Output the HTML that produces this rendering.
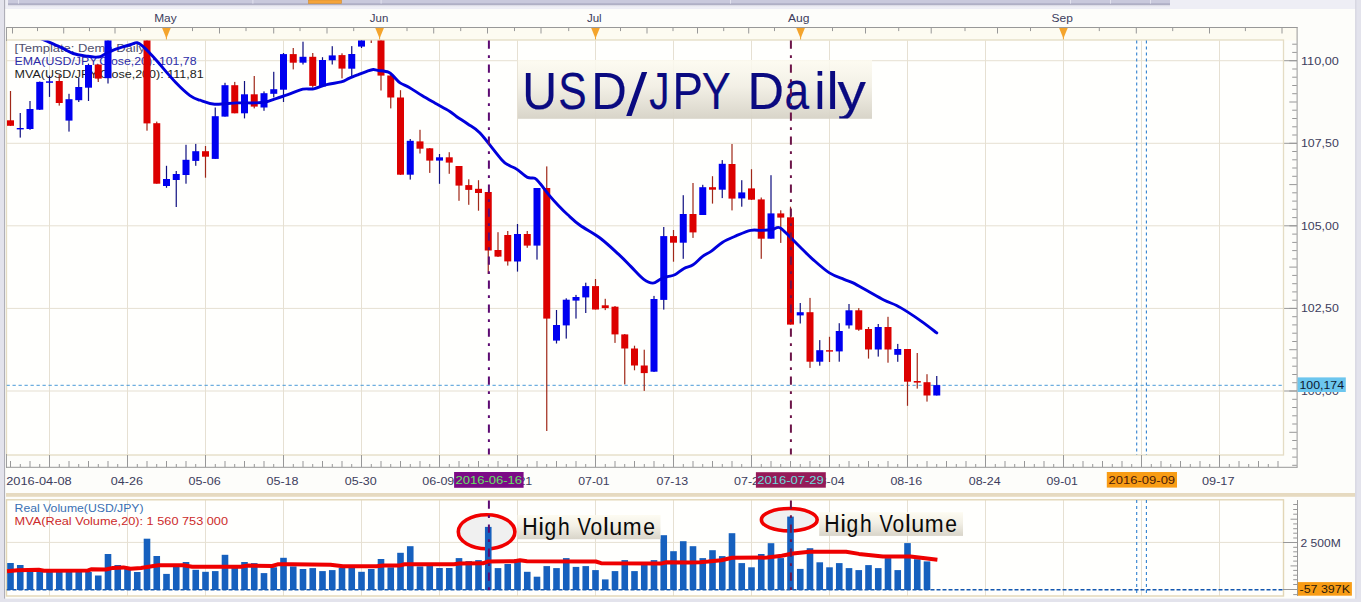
<!DOCTYPE html><html><head><meta charset="utf-8"><style>html,body{margin:0;padding:0;width:1361px;height:602px;overflow:hidden;background:#fff}svg{display:block}text{font-family:"Liberation Sans", sans-serif}</style></head><body>
<svg width="1361" height="602" viewBox="0 0 1361 602">
<defs><linearGradient id="tg" x1="0" y1="0" x2="0" y2="1"><stop offset="0" stop-color="#fdfbf0" stop-opacity="0.85"/><stop offset="0.45" stop-color="#f1eee3" stop-opacity="0.9"/><stop offset="1" stop-color="#d6d2c6" stop-opacity="0.95"/></linearGradient><linearGradient id="sh" x1="0" y1="0" x2="0" y2="1"><stop offset="0" stop-color="#b8b8cc"/><stop offset="1" stop-color="#ffffff" stop-opacity="0"/></linearGradient><clipPath id="tb"><rect x="517.8" y="60" width="354.2" height="58.6"/></clipPath><clipPath id="mp"><rect x="6.5" y="40.5" width="1276.5" height="414"/></clipPath><clipPath id="vp"><rect x="6.5" y="500" width="1276.5" height="96"/></clipPath></defs>
<rect x="0" y="0" width="1361" height="602" fill="#fdfdfa"/>
<rect x="0" y="0" width="1361" height="9" fill="#eeeef5"/>
<rect x="0" y="0" width="4.5" height="602" fill="#e3e3ec"/>
<rect x="4.1" y="0" width="1" height="602" fill="#a8a8b2"/>
<rect x="1355.5" y="0" width="5.5" height="602" fill="#e3e3ec"/>
<rect x="1355.3" y="0" width="1" height="602" fill="#d0d0dc"/>
<rect x="0" y="598.6" width="1361" height="3.4" fill="#e3e3ec"/>
<rect x="8" y="4" width="1162" height="4" fill="url(#sh)"/>
<rect x="8" y="0" width="1162" height="4.2" fill="#c9c9dc"/>
<rect x="8" y="3.6" width="1162" height="0.9" fill="#9a9ab2"/>
<rect x="18.0" y="0" width="1" height="3.6" fill="#e2e2ee"/>
<rect x="252.4" y="0" width="1" height="3.6" fill="#e2e2ee"/>
<rect x="380.6" y="0" width="1" height="3.6" fill="#e2e2ee"/>
<rect x="730.0" y="0" width="1" height="3.6" fill="#e2e2ee"/>
<rect x="1070.0" y="0" width="1" height="3.6" fill="#e2e2ee"/>
<rect x="1110.0" y="0" width="1" height="3.6" fill="#e2e2ee"/>
<rect x="1150.0" y="0" width="1" height="3.6" fill="#e2e2ee"/>
<rect x="308.5" y="0" width="33" height="3.5" fill="#f5a43a" stroke="#d08a30" stroke-width="0.6"/>
<text x="154.2" y="21.7" font-size="11.8" fill="#3c3c5c" textLength="22.5" lengthAdjust="spacingAndGlyphs">May</text>
<text x="369.8" y="21.7" font-size="11.8" fill="#3c3c5c" textLength="18.5" lengthAdjust="spacingAndGlyphs">Jun</text>
<text x="586.9" y="21.7" font-size="11.8" fill="#3c3c5c" textLength="14.8" lengthAdjust="spacingAndGlyphs">Jul</text>
<text x="788.0" y="21.7" font-size="11.8" fill="#3c3c5c" textLength="21.5" lengthAdjust="spacingAndGlyphs">Aug</text>
<text x="1051.5" y="21.7" font-size="11.8" fill="#3c3c5c" textLength="21.3" lengthAdjust="spacingAndGlyphs">Sep</text>
<rect x="6.5" y="27.5" width="1291" height="13" fill="#fdfbf1"/>
<rect x="6.5" y="27" width="1291" height="1" fill="#989898"/>
<rect x="12.0" y="27.5" width="1" height="6.0" fill="#989898"/>
<rect x="37.0" y="27.5" width="1" height="3.6" fill="#989898"/>
<rect x="63.2" y="27.5" width="1" height="6.0" fill="#989898"/>
<rect x="89.0" y="27.5" width="1" height="3.6" fill="#989898"/>
<rect x="114.5" y="27.5" width="1" height="6.0" fill="#989898"/>
<rect x="140.0" y="27.5" width="1" height="3.6" fill="#989898"/>
<rect x="192.0" y="27.5" width="1" height="3.6" fill="#989898"/>
<rect x="219.0" y="27.5" width="1" height="6.0" fill="#989898"/>
<rect x="245.5" y="27.5" width="1" height="3.6" fill="#989898"/>
<rect x="273.2" y="27.5" width="1" height="6.0" fill="#989898"/>
<rect x="299.5" y="27.5" width="1" height="3.6" fill="#989898"/>
<rect x="326.5" y="27.5" width="1" height="6.0" fill="#989898"/>
<rect x="353.2" y="27.5" width="1" height="3.6" fill="#989898"/>
<rect x="406.5" y="27.5" width="1" height="3.6" fill="#989898"/>
<rect x="433.2" y="27.5" width="1" height="6.0" fill="#989898"/>
<rect x="460.2" y="27.5" width="1" height="3.6" fill="#989898"/>
<rect x="487.0" y="27.5" width="1" height="6.0" fill="#989898"/>
<rect x="514.0" y="27.5" width="1" height="3.6" fill="#989898"/>
<rect x="540.5" y="27.5" width="1" height="6.0" fill="#989898"/>
<rect x="568.2" y="27.5" width="1" height="3.6" fill="#989898"/>
<rect x="620.0" y="27.5" width="1" height="3.6" fill="#989898"/>
<rect x="646.5" y="27.5" width="1" height="6.0" fill="#989898"/>
<rect x="672.5" y="27.5" width="1" height="3.6" fill="#989898"/>
<rect x="697.0" y="27.5" width="1" height="6.0" fill="#989898"/>
<rect x="723.2" y="27.5" width="1" height="3.6" fill="#989898"/>
<rect x="748.2" y="27.5" width="1" height="6.0" fill="#989898"/>
<rect x="774.0" y="27.5" width="1" height="3.6" fill="#989898"/>
<rect x="832.0" y="27.5" width="1" height="3.6" fill="#989898"/>
<rect x="865.0" y="27.5" width="1" height="6.0" fill="#989898"/>
<rect x="898.2" y="27.5" width="1" height="3.6" fill="#989898"/>
<rect x="930.7" y="27.5" width="1" height="6.0" fill="#989898"/>
<rect x="964.5" y="27.5" width="1" height="3.6" fill="#989898"/>
<rect x="997.0" y="27.5" width="1" height="6.0" fill="#989898"/>
<rect x="1030.0" y="27.5" width="1" height="3.6" fill="#989898"/>
<rect x="1098.8" y="27.5" width="1" height="3.6" fill="#989898"/>
<rect x="1135.8" y="27.5" width="1" height="6.0" fill="#989898"/>
<rect x="1172.2" y="27.5" width="1" height="3.6" fill="#989898"/>
<rect x="1209.0" y="27.5" width="1" height="6.0" fill="#989898"/>
<rect x="1244.9" y="27.5" width="1" height="3.6" fill="#989898"/>
<rect x="1281.5" y="27.5" width="1" height="6.0" fill="#989898"/>
<path d="M162.1 28 L170.7 28 L166.4 38.5 Z" fill="#f4a42c"/>
<rect x="165.9" y="36" width="1" height="4" fill="#f4a42c"/>
<path d="M375.3 28 L383.9 28 L379.6 38.5 Z" fill="#f4a42c"/>
<rect x="379.1" y="36" width="1" height="4" fill="#f4a42c"/>
<path d="M591.2 28 L599.8 28 L595.5 38.5 Z" fill="#f4a42c"/>
<rect x="595.0" y="36" width="1" height="4" fill="#f4a42c"/>
<path d="M796.3 28 L804.9 28 L800.6 38.5 Z" fill="#f4a42c"/>
<rect x="800.1" y="36" width="1" height="4" fill="#f4a42c"/>
<path d="M1059.1 28 L1067.7 28 L1063.4 38.5 Z" fill="#f4a42c"/>
<rect x="1062.9" y="36" width="1" height="4" fill="#f4a42c"/>
<rect x="6.5" y="40" width="1277" height="415" fill="#fffffd"/>
<rect x="49.0" y="40.5" width="1" height="414" fill="#e6e0d2"/>
<rect x="127.0" y="40.5" width="1" height="414" fill="#e6e0d2"/>
<rect x="205.0" y="40.5" width="1" height="414" fill="#e6e0d2"/>
<rect x="283.0" y="40.5" width="1" height="414" fill="#e6e0d2"/>
<rect x="361.0" y="40.5" width="1" height="414" fill="#e6e0d2"/>
<rect x="439.0" y="40.5" width="1" height="414" fill="#e6e0d2"/>
<rect x="517.0" y="40.5" width="1" height="414" fill="#e6e0d2"/>
<rect x="595.0" y="40.5" width="1" height="414" fill="#e6e0d2"/>
<rect x="673.0" y="40.5" width="1" height="414" fill="#e6e0d2"/>
<rect x="751.0" y="40.5" width="1" height="414" fill="#e6e0d2"/>
<rect x="829.0" y="40.5" width="1" height="414" fill="#e6e0d2"/>
<rect x="907.0" y="40.5" width="1" height="414" fill="#e6e0d2"/>
<rect x="985.0" y="40.5" width="1" height="414" fill="#e6e0d2"/>
<rect x="1063.0" y="40.5" width="1" height="414" fill="#e6e0d2"/>
<rect x="1141.0" y="40.5" width="1" height="414" fill="#e6e0d2"/>
<rect x="1219.0" y="40.5" width="1" height="414" fill="#e6e0d2"/>
<rect x="6.5" y="60.2" width="1277" height="1" fill="#e6e0d2"/>
<rect x="1283" y="60.2" width="14" height="1" fill="#989898"/>
<rect x="6.5" y="142.8" width="1277" height="1" fill="#e6e0d2"/>
<rect x="1283" y="142.8" width="14" height="1" fill="#989898"/>
<rect x="6.5" y="225.3" width="1277" height="1" fill="#e6e0d2"/>
<rect x="1283" y="225.3" width="14" height="1" fill="#989898"/>
<rect x="6.5" y="307.9" width="1277" height="1" fill="#e6e0d2"/>
<rect x="1283" y="307.9" width="14" height="1" fill="#989898"/>
<rect x="6.5" y="390.5" width="1277" height="1" fill="#e6e0d2"/>
<rect x="1283" y="390.5" width="14" height="1" fill="#989898"/>
<rect x="6.5" y="40" width="1277" height="415" fill="none" stroke="#e4dcc4" stroke-width="1.3"/>
<rect x="6" y="27" width="1" height="14" fill="#a0a0a0"/>
<rect x="6" y="454" width="1" height="14" fill="#a0a0a0"/>
<rect x="1296.6" y="27" width="1" height="440.5" fill="#989898"/>
<rect x="1292.2" y="43.7" width="4.6" height="1" fill="#989898"/>
<rect x="1292.2" y="51.9" width="4.6" height="1" fill="#989898"/>
<rect x="1289.3" y="60.2" width="7.5" height="1" fill="#989898"/>
<rect x="1292.2" y="68.5" width="4.6" height="1" fill="#989898"/>
<rect x="1292.2" y="76.7" width="4.6" height="1" fill="#989898"/>
<rect x="1292.2" y="85.0" width="4.6" height="1" fill="#989898"/>
<rect x="1292.2" y="93.2" width="4.6" height="1" fill="#989898"/>
<rect x="1289.3" y="101.5" width="7.5" height="1" fill="#989898"/>
<rect x="1292.2" y="109.7" width="4.6" height="1" fill="#989898"/>
<rect x="1292.2" y="118.0" width="4.6" height="1" fill="#989898"/>
<rect x="1292.2" y="126.3" width="4.6" height="1" fill="#989898"/>
<rect x="1292.2" y="134.5" width="4.6" height="1" fill="#989898"/>
<rect x="1289.3" y="142.8" width="7.5" height="1" fill="#989898"/>
<rect x="1292.2" y="151.0" width="4.6" height="1" fill="#989898"/>
<rect x="1292.2" y="159.3" width="4.6" height="1" fill="#989898"/>
<rect x="1292.2" y="167.5" width="4.6" height="1" fill="#989898"/>
<rect x="1292.2" y="175.8" width="4.6" height="1" fill="#989898"/>
<rect x="1289.3" y="184.1" width="7.5" height="1" fill="#989898"/>
<rect x="1292.2" y="192.3" width="4.6" height="1" fill="#989898"/>
<rect x="1292.2" y="200.6" width="4.6" height="1" fill="#989898"/>
<rect x="1292.2" y="208.8" width="4.6" height="1" fill="#989898"/>
<rect x="1292.2" y="217.1" width="4.6" height="1" fill="#989898"/>
<rect x="1289.3" y="225.3" width="7.5" height="1" fill="#989898"/>
<rect x="1292.2" y="233.6" width="4.6" height="1" fill="#989898"/>
<rect x="1292.2" y="241.9" width="4.6" height="1" fill="#989898"/>
<rect x="1292.2" y="250.1" width="4.6" height="1" fill="#989898"/>
<rect x="1292.2" y="258.4" width="4.6" height="1" fill="#989898"/>
<rect x="1289.3" y="266.6" width="7.5" height="1" fill="#989898"/>
<rect x="1292.2" y="274.9" width="4.6" height="1" fill="#989898"/>
<rect x="1292.2" y="283.2" width="4.6" height="1" fill="#989898"/>
<rect x="1292.2" y="291.4" width="4.6" height="1" fill="#989898"/>
<rect x="1292.2" y="299.7" width="4.6" height="1" fill="#989898"/>
<rect x="1289.3" y="307.9" width="7.5" height="1" fill="#989898"/>
<rect x="1292.2" y="316.2" width="4.6" height="1" fill="#989898"/>
<rect x="1292.2" y="324.4" width="4.6" height="1" fill="#989898"/>
<rect x="1292.2" y="332.7" width="4.6" height="1" fill="#989898"/>
<rect x="1292.2" y="341.0" width="4.6" height="1" fill="#989898"/>
<rect x="1289.3" y="349.2" width="7.5" height="1" fill="#989898"/>
<rect x="1292.2" y="357.5" width="4.6" height="1" fill="#989898"/>
<rect x="1292.2" y="365.7" width="4.6" height="1" fill="#989898"/>
<rect x="1292.2" y="374.0" width="4.6" height="1" fill="#989898"/>
<rect x="1292.2" y="382.2" width="4.6" height="1" fill="#989898"/>
<rect x="1289.3" y="390.5" width="7.5" height="1" fill="#989898"/>
<rect x="1292.2" y="398.8" width="4.6" height="1" fill="#989898"/>
<rect x="1292.2" y="407.0" width="4.6" height="1" fill="#989898"/>
<rect x="1292.2" y="415.3" width="4.6" height="1" fill="#989898"/>
<rect x="1292.2" y="423.5" width="4.6" height="1" fill="#989898"/>
<rect x="1289.3" y="431.8" width="7.5" height="1" fill="#989898"/>
<rect x="1292.2" y="440.0" width="4.6" height="1" fill="#989898"/>
<rect x="1292.2" y="448.3" width="4.6" height="1" fill="#989898"/>
<rect x="1292.2" y="456.6" width="4.6" height="1" fill="#989898"/>
<rect x="1292.2" y="464.8" width="4.6" height="1" fill="#989898"/>
<text x="1301" y="64.7" font-size="11.6" fill="#3c3c5c" textLength="37.8" lengthAdjust="spacingAndGlyphs">110,00</text>
<text x="1301" y="147.3" font-size="11.6" fill="#3c3c5c" textLength="37.8" lengthAdjust="spacingAndGlyphs">107,50</text>
<text x="1301" y="229.8" font-size="11.6" fill="#3c3c5c" textLength="37.8" lengthAdjust="spacingAndGlyphs">105,00</text>
<text x="1301" y="312.4" font-size="11.6" fill="#3c3c5c" textLength="37.8" lengthAdjust="spacingAndGlyphs">102,50</text>
<text x="1301" y="395.0" font-size="11.6" fill="#3c3c5c" textLength="37.8" lengthAdjust="spacingAndGlyphs">100,00</text>
<line x1="1136.7" y1="40.5" x2="1136.7" y2="455" stroke="#3080d0" stroke-width="1.1" stroke-dasharray="3,3"/>
<line x1="1146.4" y1="40.5" x2="1146.4" y2="455" stroke="#3080d0" stroke-width="1.1" stroke-dasharray="3,3"/>
<rect x="6.5" y="466.8" width="1291" height="1" fill="#989898"/>
<rect x="10.0" y="461" width="1" height="6" fill="#989898"/>
<rect x="19.8" y="464" width="1" height="3" fill="#989898"/>
<rect x="29.5" y="461" width="1" height="6" fill="#989898"/>
<rect x="39.2" y="464" width="1" height="3" fill="#989898"/>
<rect x="49.0" y="455" width="1" height="12" fill="#989898"/>
<rect x="58.8" y="464" width="1" height="3" fill="#989898"/>
<rect x="68.5" y="461" width="1" height="6" fill="#989898"/>
<rect x="78.2" y="464" width="1" height="3" fill="#989898"/>
<rect x="88.0" y="461" width="1" height="6" fill="#989898"/>
<rect x="97.8" y="464" width="1" height="3" fill="#989898"/>
<rect x="107.5" y="461" width="1" height="6" fill="#989898"/>
<rect x="117.2" y="464" width="1" height="3" fill="#989898"/>
<rect x="127.0" y="455" width="1" height="12" fill="#989898"/>
<rect x="136.8" y="464" width="1" height="3" fill="#989898"/>
<rect x="146.5" y="461" width="1" height="6" fill="#989898"/>
<rect x="156.2" y="464" width="1" height="3" fill="#989898"/>
<rect x="166.0" y="461" width="1" height="6" fill="#989898"/>
<rect x="175.8" y="464" width="1" height="3" fill="#989898"/>
<rect x="185.5" y="461" width="1" height="6" fill="#989898"/>
<rect x="195.2" y="464" width="1" height="3" fill="#989898"/>
<rect x="205.0" y="455" width="1" height="12" fill="#989898"/>
<rect x="214.8" y="464" width="1" height="3" fill="#989898"/>
<rect x="224.5" y="461" width="1" height="6" fill="#989898"/>
<rect x="234.2" y="464" width="1" height="3" fill="#989898"/>
<rect x="244.0" y="461" width="1" height="6" fill="#989898"/>
<rect x="253.8" y="464" width="1" height="3" fill="#989898"/>
<rect x="263.5" y="461" width="1" height="6" fill="#989898"/>
<rect x="273.2" y="464" width="1" height="3" fill="#989898"/>
<rect x="283.0" y="455" width="1" height="12" fill="#989898"/>
<rect x="292.8" y="464" width="1" height="3" fill="#989898"/>
<rect x="302.5" y="461" width="1" height="6" fill="#989898"/>
<rect x="312.2" y="464" width="1" height="3" fill="#989898"/>
<rect x="322.0" y="461" width="1" height="6" fill="#989898"/>
<rect x="331.8" y="464" width="1" height="3" fill="#989898"/>
<rect x="341.5" y="461" width="1" height="6" fill="#989898"/>
<rect x="351.2" y="464" width="1" height="3" fill="#989898"/>
<rect x="361.0" y="455" width="1" height="12" fill="#989898"/>
<rect x="370.8" y="464" width="1" height="3" fill="#989898"/>
<rect x="380.5" y="461" width="1" height="6" fill="#989898"/>
<rect x="390.2" y="464" width="1" height="3" fill="#989898"/>
<rect x="400.0" y="461" width="1" height="6" fill="#989898"/>
<rect x="409.8" y="464" width="1" height="3" fill="#989898"/>
<rect x="419.5" y="461" width="1" height="6" fill="#989898"/>
<rect x="429.2" y="464" width="1" height="3" fill="#989898"/>
<rect x="439.0" y="455" width="1" height="12" fill="#989898"/>
<rect x="448.8" y="464" width="1" height="3" fill="#989898"/>
<rect x="458.5" y="461" width="1" height="6" fill="#989898"/>
<rect x="468.2" y="464" width="1" height="3" fill="#989898"/>
<rect x="478.0" y="461" width="1" height="6" fill="#989898"/>
<rect x="487.8" y="464" width="1" height="3" fill="#989898"/>
<rect x="497.5" y="461" width="1" height="6" fill="#989898"/>
<rect x="507.2" y="464" width="1" height="3" fill="#989898"/>
<rect x="517.0" y="455" width="1" height="12" fill="#989898"/>
<rect x="526.8" y="464" width="1" height="3" fill="#989898"/>
<rect x="536.5" y="461" width="1" height="6" fill="#989898"/>
<rect x="546.2" y="464" width="1" height="3" fill="#989898"/>
<rect x="556.0" y="461" width="1" height="6" fill="#989898"/>
<rect x="565.8" y="464" width="1" height="3" fill="#989898"/>
<rect x="575.5" y="461" width="1" height="6" fill="#989898"/>
<rect x="585.2" y="464" width="1" height="3" fill="#989898"/>
<rect x="595.0" y="455" width="1" height="12" fill="#989898"/>
<rect x="604.8" y="464" width="1" height="3" fill="#989898"/>
<rect x="614.5" y="461" width="1" height="6" fill="#989898"/>
<rect x="624.2" y="464" width="1" height="3" fill="#989898"/>
<rect x="634.0" y="461" width="1" height="6" fill="#989898"/>
<rect x="643.8" y="464" width="1" height="3" fill="#989898"/>
<rect x="653.5" y="461" width="1" height="6" fill="#989898"/>
<rect x="663.2" y="464" width="1" height="3" fill="#989898"/>
<rect x="673.0" y="455" width="1" height="12" fill="#989898"/>
<rect x="682.8" y="464" width="1" height="3" fill="#989898"/>
<rect x="692.5" y="461" width="1" height="6" fill="#989898"/>
<rect x="702.2" y="464" width="1" height="3" fill="#989898"/>
<rect x="712.0" y="461" width="1" height="6" fill="#989898"/>
<rect x="721.8" y="464" width="1" height="3" fill="#989898"/>
<rect x="731.5" y="461" width="1" height="6" fill="#989898"/>
<rect x="741.2" y="464" width="1" height="3" fill="#989898"/>
<rect x="751.0" y="455" width="1" height="12" fill="#989898"/>
<rect x="760.8" y="464" width="1" height="3" fill="#989898"/>
<rect x="770.5" y="461" width="1" height="6" fill="#989898"/>
<rect x="780.2" y="464" width="1" height="3" fill="#989898"/>
<rect x="790.0" y="461" width="1" height="6" fill="#989898"/>
<rect x="799.8" y="464" width="1" height="3" fill="#989898"/>
<rect x="809.5" y="461" width="1" height="6" fill="#989898"/>
<rect x="819.2" y="464" width="1" height="3" fill="#989898"/>
<rect x="829.0" y="455" width="1" height="12" fill="#989898"/>
<rect x="838.8" y="464" width="1" height="3" fill="#989898"/>
<rect x="848.5" y="461" width="1" height="6" fill="#989898"/>
<rect x="858.2" y="464" width="1" height="3" fill="#989898"/>
<rect x="868.0" y="461" width="1" height="6" fill="#989898"/>
<rect x="877.8" y="464" width="1" height="3" fill="#989898"/>
<rect x="887.5" y="461" width="1" height="6" fill="#989898"/>
<rect x="897.2" y="464" width="1" height="3" fill="#989898"/>
<rect x="907.0" y="455" width="1" height="12" fill="#989898"/>
<rect x="916.8" y="464" width="1" height="3" fill="#989898"/>
<rect x="926.5" y="461" width="1" height="6" fill="#989898"/>
<rect x="936.2" y="464" width="1" height="3" fill="#989898"/>
<rect x="946.0" y="461" width="1" height="6" fill="#989898"/>
<rect x="955.8" y="464" width="1" height="3" fill="#989898"/>
<rect x="965.5" y="461" width="1" height="6" fill="#989898"/>
<rect x="975.2" y="464" width="1" height="3" fill="#989898"/>
<rect x="985.0" y="455" width="1" height="12" fill="#989898"/>
<rect x="994.8" y="464" width="1" height="3" fill="#989898"/>
<rect x="1004.5" y="461" width="1" height="6" fill="#989898"/>
<rect x="1014.2" y="464" width="1" height="3" fill="#989898"/>
<rect x="1024.0" y="461" width="1" height="6" fill="#989898"/>
<rect x="1033.8" y="464" width="1" height="3" fill="#989898"/>
<rect x="1043.5" y="461" width="1" height="6" fill="#989898"/>
<rect x="1053.2" y="464" width="1" height="3" fill="#989898"/>
<rect x="1063.0" y="455" width="1" height="12" fill="#989898"/>
<rect x="1072.8" y="464" width="1" height="3" fill="#989898"/>
<rect x="1082.5" y="461" width="1" height="6" fill="#989898"/>
<rect x="1092.2" y="464" width="1" height="3" fill="#989898"/>
<rect x="1102.0" y="461" width="1" height="6" fill="#989898"/>
<rect x="1111.8" y="464" width="1" height="3" fill="#989898"/>
<rect x="1121.5" y="461" width="1" height="6" fill="#989898"/>
<rect x="1131.2" y="464" width="1" height="3" fill="#989898"/>
<rect x="1141.0" y="455" width="1" height="12" fill="#989898"/>
<rect x="1150.8" y="464" width="1" height="3" fill="#989898"/>
<rect x="1160.5" y="461" width="1" height="6" fill="#989898"/>
<rect x="1170.2" y="464" width="1" height="3" fill="#989898"/>
<rect x="1180.0" y="461" width="1" height="6" fill="#989898"/>
<rect x="1189.8" y="464" width="1" height="3" fill="#989898"/>
<rect x="1199.5" y="461" width="1" height="6" fill="#989898"/>
<rect x="1209.2" y="464" width="1" height="3" fill="#989898"/>
<rect x="1219.0" y="455" width="1" height="12" fill="#989898"/>
<rect x="1228.8" y="464" width="1" height="3" fill="#989898"/>
<rect x="1238.5" y="461" width="1" height="6" fill="#989898"/>
<rect x="1248.2" y="464" width="1" height="3" fill="#989898"/>
<rect x="1258.0" y="461" width="1" height="6" fill="#989898"/>
<rect x="1267.8" y="464" width="1" height="3" fill="#989898"/>
<rect x="1277.5" y="461" width="1" height="6" fill="#989898"/>
<text x="14.6" y="52" font-size="11.6" fill="#50506e" textLength="134" lengthAdjust="spacingAndGlyphs">[Template: Demo Daily]</text>
<text x="14.6" y="64.5" font-size="11.6" fill="#2c2ca8" textLength="182" lengthAdjust="spacingAndGlyphs">EMA(USD/JPY,Close,20): 101,78</text>
<text x="14.6" y="77.5" font-size="11.6" fill="#1c1c1c" textLength="189" lengthAdjust="spacingAndGlyphs">MVA(USD/JPY,Close,200): 111,81</text>
<g clip-path="url(#mp)">
<line x1="6.5" y1="385.3" x2="1283" y2="385.3" stroke="#4a9ad8" stroke-width="1" stroke-dasharray="3.3,2.7"/>
<rect x="9.90" y="91.0" width="1.2" height="35.0" fill="#a02818"/>
<rect x="7.00" y="120.3" width="7" height="5.5" fill="#dc0000"/>
<rect x="19.65" y="113.0" width="1.2" height="24.6" fill="#101080"/>
<rect x="16.75" y="128.0" width="7" height="1.4" fill="#0000f0"/>
<rect x="29.40" y="101.0" width="1.2" height="28.8" fill="#101080"/>
<rect x="26.50" y="109.0" width="7" height="20.0" fill="#0000f0"/>
<rect x="39.15" y="81.5" width="1.2" height="28.5" fill="#101080"/>
<rect x="36.25" y="81.9" width="7" height="27.8" fill="#0000f0"/>
<rect x="48.90" y="75.5" width="1.2" height="21.4" fill="#101080"/>
<rect x="46.00" y="81.3" width="7" height="1.5" fill="#0000f0"/>
<rect x="58.65" y="74.6" width="1.2" height="31.0" fill="#a02818"/>
<rect x="55.75" y="81.0" width="7" height="22.0" fill="#dc0000"/>
<rect x="68.40" y="93.8" width="1.2" height="37.8" fill="#101080"/>
<rect x="65.50" y="99.2" width="7" height="21.4" fill="#0000f0"/>
<rect x="78.15" y="77.9" width="1.2" height="24.1" fill="#101080"/>
<rect x="75.25" y="87.0" width="7" height="13.2" fill="#0000f0"/>
<rect x="87.90" y="63.6" width="1.2" height="37.4" fill="#101080"/>
<rect x="85.00" y="65.0" width="7" height="22.7" fill="#0000f0"/>
<rect x="97.65" y="64.5" width="1.2" height="17.5" fill="#a02818"/>
<rect x="94.75" y="64.5" width="7" height="14.1" fill="#dc0000"/>
<rect x="107.40" y="40.0" width="1.2" height="43.5" fill="#101080"/>
<rect x="104.50" y="40.0" width="7" height="38.2" fill="#0000f0"/>
<rect x="146.40" y="40.0" width="1.2" height="90.7" fill="#a02818"/>
<rect x="143.50" y="40.0" width="7" height="83.4" fill="#dc0000"/>
<rect x="156.15" y="121.6" width="1.2" height="62.1" fill="#a02818"/>
<rect x="153.25" y="123.2" width="7" height="60.5" fill="#dc0000"/>
<rect x="165.90" y="165.8" width="1.2" height="22.0" fill="#101080"/>
<rect x="163.00" y="179.0" width="7" height="7.0" fill="#0000f0"/>
<rect x="175.65" y="171.0" width="1.2" height="36.0" fill="#101080"/>
<rect x="172.75" y="174.0" width="7" height="6.0" fill="#0000f0"/>
<rect x="185.40" y="144.8" width="1.2" height="38.9" fill="#101080"/>
<rect x="182.50" y="159.8" width="7" height="15.2" fill="#0000f0"/>
<rect x="195.15" y="143.9" width="1.2" height="21.9" fill="#101080"/>
<rect x="192.25" y="151.2" width="7" height="9.7" fill="#0000f0"/>
<rect x="204.90" y="146.0" width="1.2" height="31.7" fill="#a02818"/>
<rect x="202.00" y="151.2" width="7" height="5.5" fill="#dc0000"/>
<rect x="214.65" y="107.5" width="1.2" height="51.5" fill="#101080"/>
<rect x="211.75" y="116.2" width="7" height="42.7" fill="#0000f0"/>
<rect x="224.40" y="82.8" width="1.2" height="33.8" fill="#101080"/>
<rect x="221.50" y="85.2" width="7" height="31.4" fill="#0000f0"/>
<rect x="234.15" y="81.9" width="1.2" height="31.4" fill="#a02818"/>
<rect x="231.25" y="85.2" width="7" height="28.1" fill="#dc0000"/>
<rect x="243.90" y="81.0" width="1.2" height="37.4" fill="#101080"/>
<rect x="241.00" y="94.3" width="7" height="19.0" fill="#0000f0"/>
<rect x="253.65" y="76.0" width="1.2" height="32.4" fill="#a02818"/>
<rect x="250.75" y="94.3" width="7" height="12.3" fill="#dc0000"/>
<rect x="263.40" y="91.4" width="1.2" height="19.4" fill="#101080"/>
<rect x="260.50" y="93.2" width="7" height="14.3" fill="#0000f0"/>
<rect x="273.15" y="71.8" width="1.2" height="25.6" fill="#101080"/>
<rect x="270.25" y="89.2" width="7" height="4.6" fill="#0000f0"/>
<rect x="282.90" y="53.0" width="1.2" height="49.0" fill="#101080"/>
<rect x="280.00" y="54.1" width="7" height="35.6" fill="#0000f0"/>
<rect x="292.65" y="48.0" width="1.2" height="21.4" fill="#a02818"/>
<rect x="289.75" y="54.1" width="7" height="8.6" fill="#dc0000"/>
<rect x="302.40" y="41.7" width="1.2" height="22.8" fill="#101080"/>
<rect x="299.50" y="56.8" width="7" height="5.9" fill="#0000f0"/>
<rect x="312.15" y="53.0" width="1.2" height="34.7" fill="#a02818"/>
<rect x="309.25" y="56.8" width="7" height="29.1" fill="#dc0000"/>
<rect x="321.90" y="57.2" width="1.2" height="29.2" fill="#101080"/>
<rect x="319.00" y="60.0" width="7" height="26.4" fill="#0000f0"/>
<rect x="331.65" y="46.2" width="1.2" height="18.3" fill="#101080"/>
<rect x="328.75" y="55.4" width="7" height="4.9" fill="#0000f0"/>
<rect x="341.40" y="53.3" width="1.2" height="25.1" fill="#a02818"/>
<rect x="338.50" y="55.1" width="7" height="13.5" fill="#dc0000"/>
<rect x="351.15" y="46.1" width="1.2" height="30.5" fill="#101080"/>
<rect x="348.25" y="54.0" width="7" height="14.7" fill="#0000f0"/>
<rect x="360.90" y="40.0" width="1.2" height="8.0" fill="#101080"/>
<rect x="358.00" y="40.0" width="7" height="6.6" fill="#0000f0"/>
<rect x="370.65" y="30.0" width="1.2" height="13.0" fill="#a02818"/>
<rect x="367.75" y="30.0" width="7" height="8.0" fill="#dc0000"/>
<rect x="380.40" y="40.0" width="1.2" height="50.5" fill="#a02818"/>
<rect x="377.50" y="40.0" width="7" height="35.6" fill="#dc0000"/>
<rect x="390.15" y="75.0" width="1.2" height="33.4" fill="#a02818"/>
<rect x="387.25" y="75.5" width="7" height="22.0" fill="#dc0000"/>
<rect x="399.90" y="90.2" width="1.2" height="84.8" fill="#a02818"/>
<rect x="397.00" y="97.5" width="7" height="77.2" fill="#dc0000"/>
<rect x="409.65" y="139.0" width="1.2" height="40.6" fill="#101080"/>
<rect x="406.75" y="140.8" width="7" height="33.9" fill="#0000f0"/>
<rect x="419.40" y="129.8" width="1.2" height="23.7" fill="#a02818"/>
<rect x="416.50" y="141.4" width="7" height="7.3" fill="#dc0000"/>
<rect x="429.15" y="148.0" width="1.2" height="24.9" fill="#a02818"/>
<rect x="426.25" y="148.3" width="7" height="12.3" fill="#dc0000"/>
<rect x="438.90" y="154.0" width="1.2" height="29.8" fill="#101080"/>
<rect x="436.00" y="157.3" width="7" height="3.3" fill="#0000f0"/>
<rect x="448.65" y="152.2" width="1.2" height="21.6" fill="#a02818"/>
<rect x="445.75" y="157.3" width="7" height="5.3" fill="#dc0000"/>
<rect x="458.40" y="166.0" width="1.2" height="34.8" fill="#a02818"/>
<rect x="455.50" y="166.0" width="7" height="19.6" fill="#dc0000"/>
<rect x="468.15" y="179.3" width="1.2" height="25.5" fill="#a02818"/>
<rect x="465.25" y="185.1" width="7" height="4.8" fill="#dc0000"/>
<rect x="477.90" y="180.2" width="1.2" height="30.5" fill="#a02818"/>
<rect x="475.00" y="188.8" width="7" height="4.2" fill="#dc0000"/>
<rect x="487.65" y="192.0" width="1.2" height="82.0" fill="#a02818"/>
<rect x="484.75" y="192.0" width="7" height="58.5" fill="#dc0000"/>
<rect x="497.40" y="232.2" width="1.2" height="24.8" fill="#a02818"/>
<rect x="494.50" y="250.0" width="7" height="6.6" fill="#dc0000"/>
<rect x="507.15" y="231.0" width="1.2" height="34.6" fill="#a02818"/>
<rect x="504.25" y="235.0" width="7" height="26.4" fill="#dc0000"/>
<rect x="516.90" y="224.0" width="1.2" height="47.6" fill="#101080"/>
<rect x="514.00" y="234.0" width="7" height="27.5" fill="#0000f0"/>
<rect x="526.65" y="231.0" width="1.2" height="16.8" fill="#a02818"/>
<rect x="523.75" y="234.0" width="7" height="11.6" fill="#dc0000"/>
<rect x="536.40" y="188.0" width="1.2" height="71.6" fill="#101080"/>
<rect x="533.50" y="188.0" width="7" height="57.6" fill="#0000f0"/>
<rect x="546.15" y="166.4" width="1.2" height="264.6" fill="#a02818"/>
<rect x="543.25" y="188.0" width="7" height="130.6" fill="#dc0000"/>
<rect x="555.90" y="310.0" width="1.2" height="33.5" fill="#101080"/>
<rect x="553.00" y="325.0" width="7" height="15.6" fill="#0000f0"/>
<rect x="565.65" y="298.3" width="1.2" height="40.3" fill="#101080"/>
<rect x="562.75" y="299.7" width="7" height="25.7" fill="#0000f0"/>
<rect x="575.40" y="294.9" width="1.2" height="23.7" fill="#101080"/>
<rect x="572.50" y="297.0" width="7" height="3.6" fill="#0000f0"/>
<rect x="585.15" y="282.7" width="1.2" height="30.3" fill="#101080"/>
<rect x="582.25" y="286.1" width="7" height="11.3" fill="#0000f0"/>
<rect x="594.90" y="279.0" width="1.2" height="30.5" fill="#a02818"/>
<rect x="592.00" y="286.1" width="7" height="23.4" fill="#dc0000"/>
<rect x="604.65" y="298.8" width="1.2" height="11.3" fill="#a02818"/>
<rect x="601.75" y="305.3" width="7" height="2.8" fill="#dc0000"/>
<rect x="614.40" y="306.0" width="1.2" height="36.9" fill="#a02818"/>
<rect x="611.50" y="306.7" width="7" height="27.7" fill="#dc0000"/>
<rect x="624.15" y="334.0" width="1.2" height="50.4" fill="#a02818"/>
<rect x="621.25" y="334.4" width="7" height="14.1" fill="#dc0000"/>
<rect x="633.90" y="345.7" width="1.2" height="24.6" fill="#a02818"/>
<rect x="631.00" y="348.5" width="7" height="17.0" fill="#dc0000"/>
<rect x="643.65" y="349.7" width="1.2" height="41.2" fill="#a02818"/>
<rect x="640.75" y="365.5" width="7" height="7.6" fill="#dc0000"/>
<rect x="653.40" y="295.9" width="1.2" height="76.1" fill="#101080"/>
<rect x="650.50" y="299.0" width="7" height="72.7" fill="#0000f0"/>
<rect x="663.15" y="227.0" width="1.2" height="82.6" fill="#101080"/>
<rect x="660.25" y="236.1" width="7" height="63.8" fill="#0000f0"/>
<rect x="672.90" y="230.0" width="1.2" height="31.7" fill="#a02818"/>
<rect x="670.00" y="236.1" width="7" height="6.6" fill="#dc0000"/>
<rect x="682.65" y="195.2" width="1.2" height="63.6" fill="#101080"/>
<rect x="679.75" y="214.0" width="7" height="28.7" fill="#0000f0"/>
<rect x="692.40" y="183.0" width="1.2" height="54.9" fill="#a02818"/>
<rect x="689.50" y="214.0" width="7" height="18.4" fill="#dc0000"/>
<rect x="702.15" y="184.8" width="1.2" height="30.2" fill="#101080"/>
<rect x="699.25" y="187.2" width="7" height="27.8" fill="#0000f0"/>
<rect x="711.90" y="176.2" width="1.2" height="27.4" fill="#a02818"/>
<rect x="709.00" y="187.2" width="7" height="2.5" fill="#dc0000"/>
<rect x="721.65" y="160.1" width="1.2" height="38.0" fill="#101080"/>
<rect x="718.75" y="163.8" width="7" height="25.9" fill="#0000f0"/>
<rect x="731.40" y="144.0" width="1.2" height="66.4" fill="#a02818"/>
<rect x="728.50" y="164.0" width="7" height="34.6" fill="#dc0000"/>
<rect x="741.15" y="180.2" width="1.2" height="26.5" fill="#101080"/>
<rect x="738.25" y="192.4" width="7" height="6.0" fill="#0000f0"/>
<rect x="750.90" y="169.2" width="1.2" height="30.8" fill="#a02818"/>
<rect x="748.00" y="188.4" width="7" height="11.3" fill="#dc0000"/>
<rect x="760.65" y="197.5" width="1.2" height="61.3" fill="#a02818"/>
<rect x="757.75" y="199.4" width="7" height="39.3" fill="#dc0000"/>
<rect x="770.40" y="175.2" width="1.2" height="63.5" fill="#101080"/>
<rect x="767.50" y="213.4" width="7" height="25.3" fill="#0000f0"/>
<rect x="780.15" y="210.3" width="1.2" height="32.6" fill="#a02818"/>
<rect x="777.25" y="213.4" width="7" height="4.2" fill="#dc0000"/>
<rect x="789.90" y="206.7" width="1.2" height="117.9" fill="#a02818"/>
<rect x="787.00" y="217.3" width="7" height="107.3" fill="#dc0000"/>
<rect x="799.65" y="303.0" width="1.2" height="20.5" fill="#101080"/>
<rect x="796.75" y="312.2" width="7" height="3.2" fill="#0000f0"/>
<rect x="809.40" y="297.9" width="1.2" height="70.0" fill="#a02818"/>
<rect x="806.50" y="312.2" width="7" height="49.5" fill="#dc0000"/>
<rect x="819.15" y="340.1" width="1.2" height="25.6" fill="#101080"/>
<rect x="816.25" y="350.2" width="7" height="11.5" fill="#0000f0"/>
<rect x="828.90" y="336.8" width="1.2" height="25.2" fill="#a02818"/>
<rect x="826.00" y="350.2" width="7" height="1.4" fill="#dc0000"/>
<rect x="838.65" y="323.2" width="1.2" height="38.5" fill="#101080"/>
<rect x="835.75" y="331.0" width="7" height="20.4" fill="#0000f0"/>
<rect x="848.40" y="304.0" width="1.2" height="24.6" fill="#101080"/>
<rect x="845.50" y="310.3" width="7" height="15.1" fill="#0000f0"/>
<rect x="858.15" y="308.1" width="1.2" height="22.7" fill="#a02818"/>
<rect x="855.25" y="310.3" width="7" height="19.4" fill="#dc0000"/>
<rect x="867.90" y="327.0" width="1.2" height="31.6" fill="#a02818"/>
<rect x="865.00" y="329.0" width="7" height="20.5" fill="#dc0000"/>
<rect x="877.65" y="324.0" width="1.2" height="32.6" fill="#101080"/>
<rect x="874.75" y="327.0" width="7" height="22.5" fill="#0000f0"/>
<rect x="887.40" y="316.8" width="1.2" height="45.9" fill="#a02818"/>
<rect x="884.50" y="327.0" width="7" height="22.5" fill="#dc0000"/>
<rect x="897.15" y="343.9" width="1.2" height="17.9" fill="#101080"/>
<rect x="894.25" y="349.0" width="7" height="5.8" fill="#0000f0"/>
<rect x="906.90" y="349.0" width="1.2" height="56.8" fill="#a02818"/>
<rect x="904.00" y="349.0" width="7" height="32.7" fill="#dc0000"/>
<rect x="916.65" y="353.0" width="1.2" height="35.6" fill="#a02818"/>
<rect x="913.75" y="381.0" width="7" height="1.6" fill="#dc0000"/>
<rect x="926.40" y="374.2" width="1.2" height="27.4" fill="#a02818"/>
<rect x="923.50" y="382.2" width="7" height="13.3" fill="#dc0000"/>
<rect x="936.15" y="376.0" width="1.2" height="19.5" fill="#101080"/>
<rect x="933.25" y="385.1" width="7" height="10.4" fill="#0000f0"/>
<path d="M30.00 34.00 C32.62 35.12 40.65 38.52 45.70 40.70 C50.75 42.88 55.73 44.97 60.30 47.10 C64.87 49.23 68.52 51.97 73.10 53.50 C77.68 55.03 84.15 55.70 87.80 56.30 C91.45 56.90 92.90 57.05 95.00 57.10 C97.10 57.15 98.60 57.20 100.40 56.60 C102.20 56.00 103.72 54.55 105.80 53.50 C107.88 52.45 110.22 51.35 112.90 50.30 C115.58 49.25 118.90 48.17 121.90 47.20 C124.90 46.23 128.35 45.25 130.90 44.50 C133.45 43.75 135.12 42.32 137.20 42.70 C139.28 43.08 141.47 45.23 143.40 46.80 C145.33 48.37 146.43 49.60 148.80 52.10 C151.17 54.60 153.07 56.68 157.60 61.80 C162.13 66.92 170.60 77.17 176.00 82.80 C181.40 88.43 186.00 92.70 190.00 95.60 C194.00 98.50 195.90 98.77 200.00 100.20 C204.10 101.63 208.50 103.75 214.60 104.20 C220.70 104.65 229.90 103.12 236.60 102.90 C243.30 102.68 249.93 103.05 254.80 102.90 C259.67 102.75 262.13 102.77 265.80 102.00 C269.47 101.23 273.13 99.52 276.80 98.30 C280.47 97.08 283.47 96.22 287.80 94.70 C292.13 93.18 298.47 90.18 302.80 89.20 C307.13 88.22 309.83 89.57 313.80 88.80 C317.77 88.03 322.03 85.75 326.60 84.60 C331.17 83.45 337.47 82.93 341.20 81.90 C344.93 80.87 346.22 79.58 349.00 78.40 C351.78 77.22 354.92 75.98 357.90 74.80 C360.88 73.62 364.35 72.18 366.90 71.30 C369.45 70.42 371.40 69.65 373.20 69.50 C375.00 69.35 375.17 69.95 377.70 70.40 C380.23 70.85 385.72 71.17 388.40 72.20 C391.08 73.23 391.85 74.82 393.80 76.60 C395.75 78.38 397.52 81.10 400.10 82.90 C402.68 84.70 405.65 85.28 409.30 87.40 C412.95 89.52 417.75 93.00 422.00 95.60 C426.25 98.20 430.22 100.40 434.80 103.00 C439.38 105.60 445.83 108.92 449.50 111.20 C453.17 113.48 453.75 114.57 456.80 116.70 C459.85 118.83 463.93 121.27 467.80 124.00 C471.67 126.73 474.32 127.10 480.00 133.10 C485.68 139.10 497.02 154.60 501.90 160.00 C506.78 165.40 506.85 163.98 509.30 165.50 C511.75 167.02 513.57 167.12 516.60 169.10 C519.63 171.08 524.47 175.87 527.50 177.40 C530.53 178.93 532.67 177.23 534.80 178.30 C536.93 179.37 537.85 180.92 540.30 183.80 C542.75 186.68 546.45 191.95 549.50 195.60 C552.55 199.25 555.55 202.50 558.60 205.70 C561.65 208.90 564.23 211.53 567.80 214.80 C571.37 218.07 574.63 221.43 580.00 225.30 C585.37 229.17 593.33 232.95 600.00 238.00 C606.67 243.05 614.83 250.83 620.00 255.60 C625.17 260.37 627.03 262.63 631.00 266.60 C634.97 270.57 640.15 276.65 643.80 279.40 C647.45 282.15 650.17 283.10 652.90 283.10 C655.63 283.10 657.77 280.47 660.20 279.40 C662.63 278.33 665.07 277.47 667.50 276.70 C669.93 275.93 672.05 276.18 674.80 274.80 C677.55 273.42 680.95 270.07 684.00 268.40 C687.05 266.73 690.05 266.77 693.10 264.80 C696.15 262.83 699.25 258.88 702.30 256.60 C705.35 254.32 708.07 253.47 711.40 251.10 C714.73 248.73 718.20 244.93 722.30 242.40 C726.40 239.87 731.28 237.90 736.00 235.90 C740.72 233.90 746.33 231.32 750.60 230.40 C754.87 229.48 757.95 230.55 761.60 230.40 C765.25 230.25 769.47 229.95 772.50 229.50 C775.53 229.05 776.75 226.32 779.80 227.70 C782.85 229.08 787.13 234.30 790.80 237.80 C794.47 241.30 798.13 245.12 801.80 248.70 C805.47 252.28 808.20 255.27 812.80 259.30 C817.40 263.33 824.20 269.57 829.40 272.90 C834.60 276.23 840.05 277.63 844.00 279.30 C847.95 280.97 849.13 280.93 853.10 282.90 C857.07 284.87 862.68 288.25 867.80 291.10 C872.92 293.95 879.00 297.60 883.80 300.00 C888.60 302.40 892.65 303.52 896.60 305.50 C900.55 307.48 903.23 309.17 907.50 311.90 C911.77 314.63 917.32 318.40 922.20 321.90 C927.08 325.40 934.37 331.07 936.80 332.90" fill="none" stroke="#0000dc" stroke-width="2.9" stroke-linejoin="round" stroke-linecap="round"/>
</g>
<rect x="517.8" y="60" width="354.2" height="58.8" fill="url(#tg)"/>
<path d="M641.8 72 L647.2 72 L631.6 116 L626.2 116 Z" fill="#0a0a80"/>
<g clip-path="url(#tb)"><text transform="translate(522.29,0) scale(0.9422,1)" x="0" y="109.20" font-size="51.20" fill="#0a0a80" stroke="#0a0a80" stroke-width="0.2">U</text><text transform="translate(558.34,0) scale(0.8322,1)" x="0" y="109.20" font-size="51.20" fill="#0a0a80" stroke="#0a0a80" stroke-width="0.2">S</text><text transform="translate(591.17,0) scale(0.9601,1)" x="0" y="109.20" font-size="51.20" fill="#0a0a80" stroke="#0a0a80" stroke-width="0.2">D</text><text transform="translate(649.15,0) scale(0.7908,1)" x="0" y="109.20" font-size="51.20" fill="#0a0a80" stroke="#0a0a80" stroke-width="0.2">J</text><text transform="translate(672.55,0) scale(0.8921,1)" x="0" y="109.20" font-size="51.20" fill="#0a0a80" stroke="#0a0a80" stroke-width="0.2">P</text><text transform="translate(701.85,0) scale(0.8465,1)" x="0" y="109.20" font-size="51.20" fill="#0a0a80" stroke="#0a0a80" stroke-width="0.2">Y</text><text transform="translate(747.56,0) scale(0.9865,1)" x="0" y="109.20" font-size="51.20" fill="#0a0a80" stroke="#0a0a80" stroke-width="0.2">D</text><text transform="translate(784.55,0) scale(0.8626,1)" x="0" y="109.20" font-size="51.20" fill="#0a0a80" stroke="#0a0a80" stroke-width="0.2">a</text><text transform="translate(814.53,0) scale(0.9544,1)" x="0" y="109.20" font-size="51.20" fill="#0a0a80" stroke="#0a0a80" stroke-width="0.2">i</text><text transform="translate(826.55,0) scale(1.0653,1)" x="0" y="109.20" font-size="51.20" fill="#0a0a80" stroke="#0a0a80" stroke-width="0.2">l</text><text transform="translate(837.53,0) scale(1.1087,1)" x="0" y="109.20" font-size="51.20" fill="#0a0a80" stroke="#0a0a80" stroke-width="0.2">y</text></g>
<line x1="488.9" y1="40.5" x2="488.9" y2="454.5" stroke="#5c0a72" stroke-width="2" stroke-dasharray="8.3,6.5,2.7,6.5" stroke-dashoffset="0.0"/>
<line x1="790.9" y1="40.5" x2="790.9" y2="454.5" stroke="#6c1448" stroke-width="2" stroke-dasharray="8.3,6.5,2.7,6.5" stroke-dashoffset="0.0"/>
<text x="6.2" y="485" font-size="11.6" fill="#3c3c5c" textLength="65.5" lengthAdjust="spacingAndGlyphs">2016-04-08</text>
<text x="110.7" y="485" font-size="11.6" fill="#3c3c5c" textLength="32.2" lengthAdjust="spacingAndGlyphs">04-26</text>
<text x="188.6" y="485" font-size="11.6" fill="#3c3c5c" textLength="32.0" lengthAdjust="spacingAndGlyphs">05-06</text>
<text x="266.5" y="485" font-size="11.6" fill="#3c3c5c" textLength="32.0" lengthAdjust="spacingAndGlyphs">05-18</text>
<text x="344.8" y="485" font-size="11.6" fill="#3c3c5c" textLength="31.9" lengthAdjust="spacingAndGlyphs">05-30</text>
<text x="422.3" y="485" font-size="11.6" fill="#3c3c5c" textLength="32.0" lengthAdjust="spacingAndGlyphs">06-09</text>
<text x="500.3" y="485" font-size="11.6" fill="#3c3c5c" textLength="32.0" lengthAdjust="spacingAndGlyphs">06-21</text>
<text x="578.3" y="485" font-size="11.6" fill="#3c3c5c" textLength="31.4" lengthAdjust="spacingAndGlyphs">07-01</text>
<text x="656.5" y="485" font-size="11.6" fill="#3c3c5c" textLength="31.7" lengthAdjust="spacingAndGlyphs">07-13</text>
<text x="734.0" y="485" font-size="11.6" fill="#3c3c5c" textLength="32.0" lengthAdjust="spacingAndGlyphs">07-21</text>
<text x="812.8" y="485" font-size="11.6" fill="#3c3c5c" textLength="31.8" lengthAdjust="spacingAndGlyphs">08-04</text>
<text x="890.4" y="485" font-size="11.6" fill="#3c3c5c" textLength="31.8" lengthAdjust="spacingAndGlyphs">08-16</text>
<text x="968.8" y="485" font-size="11.6" fill="#3c3c5c" textLength="31.8" lengthAdjust="spacingAndGlyphs">08-24</text>
<text x="1046.5" y="485" font-size="11.6" fill="#3c3c5c" textLength="31.4" lengthAdjust="spacingAndGlyphs">09-01</text>
<text x="1202.0" y="485" font-size="11.6" fill="#3c3c5c" textLength="32.5" lengthAdjust="spacingAndGlyphs">09-17</text>
<rect x="454.1" y="472" width="69.5" height="15.8" fill="#7c0a86"/>
<text x="455.5" y="484" font-size="11.6" fill="#64e464" textLength="66.5" lengthAdjust="spacingAndGlyphs">2016-06-16</text>
<rect x="755.9" y="472.2" width="69.9" height="15.5" fill="#961a58"/>
<text x="757.3" y="484" font-size="11.6" fill="#6adcdc" textLength="66.5" lengthAdjust="spacingAndGlyphs">2016-07-29</text>
<rect x="1106.8" y="472" width="70.2" height="15.6" fill="#f89c14"/>
<text x="1108.6" y="484" font-size="11.6" fill="#4a1a0a" textLength="66.5" lengthAdjust="spacingAndGlyphs">2016-09-09</text>
<rect x="6" y="493" width="1349" height="3.8" fill="#e6dac0"/>
<rect x="6.5" y="499.8" width="1277" height="96.2" fill="#fffffd"/>
<rect x="49.0" y="500" width="1" height="96" fill="#e6e0d2"/>
<rect x="127.0" y="500" width="1" height="96" fill="#e6e0d2"/>
<rect x="205.0" y="500" width="1" height="96" fill="#e6e0d2"/>
<rect x="283.0" y="500" width="1" height="96" fill="#e6e0d2"/>
<rect x="361.0" y="500" width="1" height="96" fill="#e6e0d2"/>
<rect x="439.0" y="500" width="1" height="96" fill="#e6e0d2"/>
<rect x="517.0" y="500" width="1" height="96" fill="#e6e0d2"/>
<rect x="595.0" y="500" width="1" height="96" fill="#e6e0d2"/>
<rect x="673.0" y="500" width="1" height="96" fill="#e6e0d2"/>
<rect x="751.0" y="500" width="1" height="96" fill="#e6e0d2"/>
<rect x="829.0" y="500" width="1" height="96" fill="#e6e0d2"/>
<rect x="907.0" y="500" width="1" height="96" fill="#e6e0d2"/>
<rect x="985.0" y="500" width="1" height="96" fill="#e6e0d2"/>
<rect x="1063.0" y="500" width="1" height="96" fill="#e6e0d2"/>
<rect x="1141.0" y="500" width="1" height="96" fill="#e6e0d2"/>
<rect x="1219.0" y="500" width="1" height="96" fill="#e6e0d2"/>
<rect x="6.5" y="541.9" width="1277" height="1" fill="#e6e0d2"/>
<rect x="6.5" y="499.8" width="1277" height="96.2" fill="none" stroke="#e2d6b6" stroke-width="1.4"/>
<line x1="1136.7" y1="500" x2="1136.7" y2="596" stroke="#3080d0" stroke-width="1.1" stroke-dasharray="3,3"/>
<line x1="1146.4" y1="500" x2="1146.4" y2="596" stroke="#3080d0" stroke-width="1.1" stroke-dasharray="3,3"/>
<ellipse cx="486.6" cy="531.8" rx="28.3" ry="17" fill="#f0f0f0" stroke="#f00000" stroke-width="3.6"/>
<ellipse cx="789.3" cy="519.7" rx="27.9" ry="11.15" fill="#f0f0f0" stroke="#f00000" stroke-width="3.6"/>
<g clip-path="url(#vp)">
<rect x="7.20" y="563.0" width="6.6" height="27.0" fill="#1660be"/>
<rect x="16.95" y="565.0" width="6.6" height="25.0" fill="#1660be"/>
<rect x="26.70" y="571.0" width="6.6" height="19.0" fill="#1660be"/>
<rect x="36.45" y="572.0" width="6.6" height="18.0" fill="#1660be"/>
<rect x="46.20" y="572.0" width="6.6" height="18.0" fill="#1660be"/>
<rect x="55.95" y="572.0" width="6.6" height="18.0" fill="#1660be"/>
<rect x="65.70" y="572.0" width="6.6" height="18.0" fill="#1660be"/>
<rect x="75.45" y="572.0" width="6.6" height="18.0" fill="#1660be"/>
<rect x="85.20" y="572.0" width="6.6" height="18.0" fill="#1660be"/>
<rect x="94.95" y="575.5" width="6.6" height="14.5" fill="#1660be"/>
<rect x="104.70" y="554.0" width="6.6" height="36.0" fill="#1660be"/>
<rect x="114.45" y="565.0" width="6.6" height="25.0" fill="#1660be"/>
<rect x="124.20" y="568.0" width="6.6" height="22.0" fill="#1660be"/>
<rect x="133.95" y="572.0" width="6.6" height="18.0" fill="#1660be"/>
<rect x="143.70" y="538.7" width="6.6" height="51.3" fill="#1660be"/>
<rect x="153.45" y="556.0" width="6.6" height="34.0" fill="#1660be"/>
<rect x="163.20" y="573.9" width="6.6" height="16.1" fill="#1660be"/>
<rect x="172.95" y="566.4" width="6.6" height="23.6" fill="#1660be"/>
<rect x="182.70" y="562.0" width="6.6" height="28.0" fill="#1660be"/>
<rect x="192.45" y="569.8" width="6.6" height="20.2" fill="#1660be"/>
<rect x="202.20" y="571.8" width="6.6" height="18.2" fill="#1660be"/>
<rect x="211.95" y="571.1" width="6.6" height="18.9" fill="#1660be"/>
<rect x="221.70" y="554.8" width="6.6" height="35.2" fill="#1660be"/>
<rect x="231.45" y="568.0" width="6.6" height="22.0" fill="#1660be"/>
<rect x="241.20" y="562.0" width="6.6" height="28.0" fill="#1660be"/>
<rect x="250.95" y="563.1" width="6.6" height="26.9" fill="#1660be"/>
<rect x="260.70" y="573.1" width="6.6" height="16.9" fill="#1660be"/>
<rect x="270.45" y="567.3" width="6.6" height="22.7" fill="#1660be"/>
<rect x="280.20" y="557.8" width="6.6" height="32.2" fill="#1660be"/>
<rect x="289.95" y="566.4" width="6.6" height="23.6" fill="#1660be"/>
<rect x="299.70" y="569.0" width="6.6" height="21.0" fill="#1660be"/>
<rect x="309.45" y="568.1" width="6.6" height="21.9" fill="#1660be"/>
<rect x="319.20" y="571.1" width="6.6" height="18.9" fill="#1660be"/>
<rect x="328.95" y="570.1" width="6.6" height="19.9" fill="#1660be"/>
<rect x="338.70" y="568.0" width="6.6" height="22.0" fill="#1660be"/>
<rect x="348.45" y="568.0" width="6.6" height="22.0" fill="#1660be"/>
<rect x="358.20" y="571.8" width="6.6" height="18.2" fill="#1660be"/>
<rect x="367.95" y="569.0" width="6.6" height="21.0" fill="#1660be"/>
<rect x="377.70" y="559.0" width="6.6" height="31.0" fill="#1660be"/>
<rect x="387.45" y="567.3" width="6.6" height="22.7" fill="#1660be"/>
<rect x="397.20" y="552.8" width="6.6" height="37.2" fill="#1660be"/>
<rect x="406.95" y="546.2" width="6.6" height="43.8" fill="#1660be"/>
<rect x="416.70" y="566.4" width="6.6" height="23.6" fill="#1660be"/>
<rect x="426.45" y="566.0" width="6.6" height="24.0" fill="#1660be"/>
<rect x="436.20" y="568.0" width="6.6" height="22.0" fill="#1660be"/>
<rect x="445.95" y="568.0" width="6.6" height="22.0" fill="#1660be"/>
<rect x="455.70" y="558.1" width="6.6" height="31.9" fill="#1660be"/>
<rect x="465.45" y="561.1" width="6.6" height="28.9" fill="#1660be"/>
<rect x="475.20" y="560.1" width="6.6" height="29.9" fill="#1660be"/>
<rect x="484.95" y="526.9" width="6.6" height="63.1" fill="#1660be"/>
<rect x="494.70" y="568.1" width="6.6" height="21.9" fill="#1660be"/>
<rect x="504.45" y="564.0" width="6.6" height="26.0" fill="#1660be"/>
<rect x="514.20" y="559.0" width="6.6" height="31.0" fill="#1660be"/>
<rect x="523.95" y="571.8" width="6.6" height="18.2" fill="#1660be"/>
<rect x="533.70" y="576.7" width="6.6" height="13.3" fill="#1660be"/>
<rect x="543.45" y="566.1" width="6.6" height="23.9" fill="#1660be"/>
<rect x="553.20" y="568.1" width="6.6" height="21.9" fill="#1660be"/>
<rect x="562.95" y="558.1" width="6.6" height="31.9" fill="#1660be"/>
<rect x="572.70" y="566.9" width="6.6" height="23.1" fill="#1660be"/>
<rect x="582.45" y="566.1" width="6.6" height="23.9" fill="#1660be"/>
<rect x="592.20" y="570.1" width="6.6" height="19.9" fill="#1660be"/>
<rect x="601.95" y="579.4" width="6.6" height="10.6" fill="#1660be"/>
<rect x="611.70" y="571.1" width="6.6" height="18.9" fill="#1660be"/>
<rect x="621.45" y="560.1" width="6.6" height="29.9" fill="#1660be"/>
<rect x="631.20" y="571.1" width="6.6" height="18.9" fill="#1660be"/>
<rect x="640.95" y="564.0" width="6.6" height="26.0" fill="#1660be"/>
<rect x="650.70" y="560.1" width="6.6" height="29.9" fill="#1660be"/>
<rect x="660.45" y="535.2" width="6.6" height="54.8" fill="#1660be"/>
<rect x="670.20" y="551.2" width="6.6" height="38.8" fill="#1660be"/>
<rect x="679.95" y="541.2" width="6.6" height="48.8" fill="#1660be"/>
<rect x="689.70" y="546.2" width="6.6" height="43.8" fill="#1660be"/>
<rect x="699.45" y="558.1" width="6.6" height="31.9" fill="#1660be"/>
<rect x="709.20" y="550.2" width="6.6" height="39.8" fill="#1660be"/>
<rect x="718.95" y="556.1" width="6.6" height="33.9" fill="#1660be"/>
<rect x="728.70" y="533.2" width="6.6" height="56.8" fill="#1660be"/>
<rect x="738.45" y="563.1" width="6.6" height="26.9" fill="#1660be"/>
<rect x="748.20" y="567.3" width="6.6" height="22.7" fill="#1660be"/>
<rect x="757.95" y="554.0" width="6.6" height="36.0" fill="#1660be"/>
<rect x="767.70" y="543.2" width="6.6" height="46.8" fill="#1660be"/>
<rect x="777.45" y="558.1" width="6.6" height="31.9" fill="#1660be"/>
<rect x="787.20" y="516.6" width="6.6" height="73.4" fill="#1660be"/>
<rect x="796.95" y="568.9" width="6.6" height="21.1" fill="#1660be"/>
<rect x="806.70" y="548.2" width="6.6" height="41.8" fill="#1660be"/>
<rect x="816.45" y="562.3" width="6.6" height="27.7" fill="#1660be"/>
<rect x="826.20" y="567.3" width="6.6" height="22.7" fill="#1660be"/>
<rect x="835.95" y="563.1" width="6.6" height="26.9" fill="#1660be"/>
<rect x="845.70" y="568.1" width="6.6" height="21.9" fill="#1660be"/>
<rect x="855.45" y="570.1" width="6.6" height="19.9" fill="#1660be"/>
<rect x="865.20" y="565.1" width="6.6" height="24.9" fill="#1660be"/>
<rect x="874.95" y="568.1" width="6.6" height="21.9" fill="#1660be"/>
<rect x="884.70" y="558.1" width="6.6" height="31.9" fill="#1660be"/>
<rect x="894.45" y="570.1" width="6.6" height="19.9" fill="#1660be"/>
<rect x="904.20" y="543.1" width="6.6" height="46.9" fill="#1660be"/>
<rect x="913.95" y="559.2" width="6.6" height="30.8" fill="#1660be"/>
<rect x="923.70" y="561.4" width="6.6" height="28.6" fill="#1660be"/>
<line x1="6.5" y1="589.8" x2="1283" y2="589.8" stroke="#1458b0" stroke-width="1.4" stroke-dasharray="4,2"/>
<polyline points="7.0,571.2 17.6,570.2 38.8,569.7 44.0,570.7 88.0,570.5 91.7,569.2 105.8,569.5 112.9,567.9 123.5,567.4 130.5,568.8 141.0,567.9 153.4,566.1 158.7,565.3 183.4,565.3 192.2,566.8 240.6,566.8 247.6,565.6 272.3,566.0 277.6,564.3 291.7,564.3 330.5,564.7 342.9,566.3 376.4,566.3 383.4,565.6 399.3,565.6 404.6,564.3 454.0,564.3 459.3,563.6 482.9,563.3 488.2,561.5 514.7,561.2 520.0,560.2 527.0,561.2 595.8,561.5 601.1,563.2 661.0,563.6 666.3,562.2 689.3,562.6 700.0,562.2 708.4,561.6 721.2,560.3 732.2,557.8 767.1,557.6 781.8,555.7 792.9,553.5 809.4,551.8 846.1,551.8 859.0,553.9 882.9,556.4 910.4,556.4 925.1,558.3 937.4,559.8" fill="none" stroke="#ee0000" stroke-width="4" stroke-linejoin="round"/>
<line x1="488.9" y1="500.5" x2="488.9" y2="596.0" stroke="#5c0a72" stroke-width="2" stroke-dasharray="8.3,6.5,2.7,6.5" stroke-dashoffset="0.0"/>
<line x1="790.9" y1="500.5" x2="790.9" y2="596.0" stroke="#6c1448" stroke-width="2" stroke-dasharray="8.3,6.5,2.7,6.5" stroke-dashoffset="0.0"/>
</g>
<text x="14.6" y="512.4" font-size="11.6" fill="#3a70b4" textLength="129" lengthAdjust="spacingAndGlyphs">Real Volume(USD/JPY)</text>
<text x="14.6" y="524.9" font-size="11.6" fill="#cc2a2a" textLength="213.4" lengthAdjust="spacingAndGlyphs">MVA(Real Volume,20): 1 560 753 000</text>
<rect x="1297" y="500" width="1" height="96" fill="#989898"/>
<rect x="1293.2" y="504.0" width="4.3" height="1" fill="#989898"/>
<rect x="1293.2" y="509.0" width="4.3" height="1" fill="#989898"/>
<rect x="1293.2" y="513.7" width="4.3" height="1" fill="#989898"/>
<rect x="1290.5" y="518.7" width="7" height="1" fill="#989898"/>
<rect x="1293.2" y="523.4" width="4.3" height="1" fill="#989898"/>
<rect x="1293.2" y="528.2" width="4.3" height="1" fill="#989898"/>
<rect x="1293.2" y="532.7" width="4.3" height="1" fill="#989898"/>
<rect x="1293.2" y="537.5" width="4.3" height="1" fill="#989898"/>
<rect x="1293.2" y="542.0" width="4.3" height="1" fill="#989898"/>
<rect x="1293.2" y="546.8" width="4.3" height="1" fill="#989898"/>
<rect x="1293.2" y="551.3" width="4.3" height="1" fill="#989898"/>
<rect x="1293.2" y="555.9" width="4.3" height="1" fill="#989898"/>
<rect x="1293.2" y="560.6" width="4.3" height="1" fill="#989898"/>
<rect x="1290.5" y="565.4" width="7" height="1" fill="#989898"/>
<rect x="1293.2" y="569.9" width="4.3" height="1" fill="#989898"/>
<rect x="1293.2" y="574.7" width="4.3" height="1" fill="#989898"/>
<rect x="1293.2" y="579.2" width="4.3" height="1" fill="#989898"/>
<rect x="1293.2" y="584.0" width="4.3" height="1" fill="#989898"/>
<rect x="1293.2" y="589.0" width="4.3" height="1" fill="#989898"/>
<rect x="1293.2" y="594.1" width="4.3" height="1" fill="#989898"/>
<rect x="1283" y="542" width="14" height="1" fill="#989898"/>
<rect x="1283" y="589" width="14" height="1" fill="#989898"/>
<text x="1300.5" y="547" font-size="11.6" fill="#3c3c5c" textLength="40.2" lengthAdjust="spacingAndGlyphs">2 500M</text>
<rect x="1297.9" y="582.1" width="54" height="13.6" fill="#f89c14"/>
<text x="1299.5" y="593.2" font-size="11.6" fill="#2a1a0a" textLength="50.5" lengthAdjust="spacingAndGlyphs">-57 397K</text>
<rect x="1297.6" y="377.4" width="48.2" height="14.6" fill="#6cc6ee"/>
<text x="1299.5" y="389" font-size="11.6" fill="#0c1830" textLength="44.5" lengthAdjust="spacingAndGlyphs">100,174</text>
<rect x="517.5" y="515" width="143" height="24.2" fill="url(#tg)"/>
<text transform="translate(522.25,0) scale(0.9136,1)" x="0" y="534.80" font-size="23.30" fill="#0a0a0a">H</text><text transform="translate(538.15,0) scale(1.1217,1)" x="0" y="534.80" font-size="23.30" fill="#0a0a0a">i</text><text transform="translate(544.51,0) scale(0.9061,1)" x="0" y="534.80" font-size="23.30" fill="#0a0a0a">g</text><text transform="translate(557.94,0) scale(0.9052,1)" x="0" y="534.80" font-size="23.30" fill="#0a0a0a">h</text><text transform="translate(577.50,0) scale(0.8623,1)" x="0" y="534.80" font-size="23.30" fill="#0a0a0a">V</text><text transform="translate(590.62,0) scale(0.9002,1)" x="0" y="534.80" font-size="23.30" fill="#0a0a0a">o</text><text transform="translate(602.95,0) scale(1.1217,1)" x="0" y="534.80" font-size="23.30" fill="#0a0a0a">l</text><text transform="translate(609.19,0) scale(0.9997,1)" x="0" y="534.80" font-size="23.30" fill="#0a0a0a">u</text><text transform="translate(622.70,0) scale(0.9735,1)" x="0" y="534.80" font-size="23.30" fill="#0a0a0a">m</text><text transform="translate(643.22,0) scale(0.9040,1)" x="0" y="534.80" font-size="23.30" fill="#0a0a0a">e</text>
<rect x="819.2" y="512.2" width="143.8" height="23.7" fill="url(#tg)"/>
<text transform="translate(824.25,0) scale(0.9136,1)" x="0" y="531.80" font-size="23.30" fill="#0a0a0a">H</text><text transform="translate(840.15,0) scale(1.1217,1)" x="0" y="531.80" font-size="23.30" fill="#0a0a0a">i</text><text transform="translate(846.51,0) scale(0.9061,1)" x="0" y="531.80" font-size="23.30" fill="#0a0a0a">g</text><text transform="translate(859.94,0) scale(0.9052,1)" x="0" y="531.80" font-size="23.30" fill="#0a0a0a">h</text><text transform="translate(879.50,0) scale(0.8623,1)" x="0" y="531.80" font-size="23.30" fill="#0a0a0a">V</text><text transform="translate(892.62,0) scale(0.9002,1)" x="0" y="531.80" font-size="23.30" fill="#0a0a0a">o</text><text transform="translate(904.95,0) scale(1.1217,1)" x="0" y="531.80" font-size="23.30" fill="#0a0a0a">l</text><text transform="translate(911.19,0) scale(0.9997,1)" x="0" y="531.80" font-size="23.30" fill="#0a0a0a">u</text><text transform="translate(924.70,0) scale(0.9735,1)" x="0" y="531.80" font-size="23.30" fill="#0a0a0a">m</text><text transform="translate(945.22,0) scale(0.9040,1)" x="0" y="531.80" font-size="23.30" fill="#0a0a0a">e</text>
</svg></body></html>
